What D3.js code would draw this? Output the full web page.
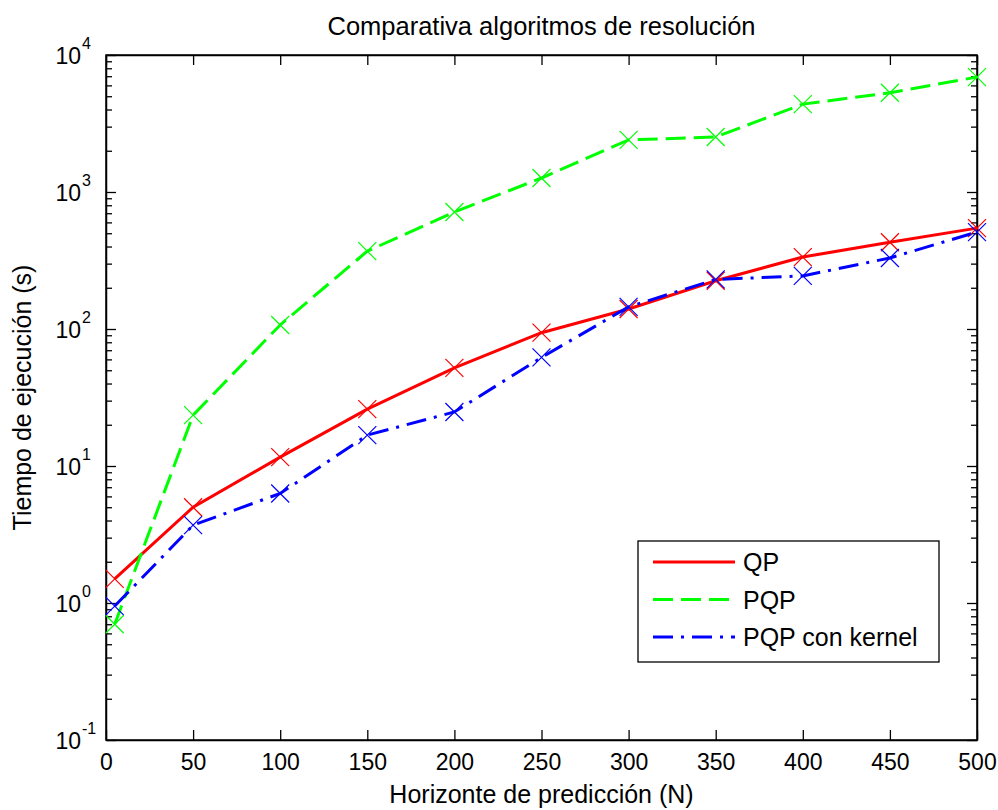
<!DOCTYPE html>
<html>
<head>
<meta charset="utf-8">
<script src="https://cdn.jsdelivr.net/npm/d3@7"></script>
<style>
  body { margin: 0; background: #fff; }
  svg text { font-family: "Liberation Sans", Arial, sans-serif; fill: #000; }
</style>
</head>
<body>
<div id="chart"></div>
<script>
// horizonte de prediccion N
const horizons = [5, 50, 100, 150, 200, 250, 300, 350, 400, 450, 500];
// tiempos (s)
const qpTimes = [1.5, 5.0, 11.6, 26, 52, 94, 140, 225, 335, 430, 545];
const pqpTimes = [0.70, 23.5, 107, 370, 715, 1265, 2400, 2520, 4380, 5300, 6900];
const kernelTimes = [0.95, 3.7, 6.3, 16.8, 24.8, 62, 145, 230, 244, 330, 510];

const xTicks = [0, 50, 100, 150, 200, 250, 300, 350, 400, 450, 500];
const yExponents = [-1, 0, 1, 2, 3, 4];
const seriesNames = ["QP", "PQP", "PQP con kernel"];

const w = 998;
const h = 810;
const plotLeft = 106, plotRight = 977, plotTop = 55, plotBottom = 740;

const svg = d3.select("#chart").append("svg").attr("width", w).attr("height", h);
svg.append("rect").attr("width", w).attr("height", h).attr("fill", "#fff");

const x = d3.scaleLinear().domain([0, 500]).range([plotLeft, plotRight]);
const y = d3.scaleLog().domain([0.1, 10000]).range([plotBottom, plotTop]);

// minor log ticks
const minor = [];
yExponents.slice(0, -1).forEach(e => {
    for (let k = 2; k <= 9; k++) minor.push(k * Math.pow(10, e));
});

const axisStyle = g => {
    g.selectAll("path").attr("stroke", "#000").attr("stroke-width", 1.5);
    g.selectAll("line").attr("stroke", "#000").attr("stroke-width", 1.3);
};

svg.append("g").attr("transform", `translate(0,${plotBottom})`)
    .call(d3.axisBottom(x).tickValues(xTicks).tickSizeInner(-10).tickSizeOuter(0).tickPadding(14))
    .call(axisStyle)
    .call(g => g.selectAll("text").style("font-size", "23px").attr("dy", "0.71em"));
svg.append("g").attr("transform", `translate(0,${plotTop})`)
    .call(d3.axisTop(x).tickValues(xTicks).tickSizeInner(-10).tickSizeOuter(0).tickFormat(""))
    .call(axisStyle);

svg.append("g").attr("transform", `translate(${plotLeft},0)`)
    .call(d3.axisLeft(y).tickValues(yExponents.map(e => Math.pow(10, e))).tickSizeInner(-10).tickSizeOuter(0).tickFormat(""))
    .call(axisStyle);
svg.append("g").attr("transform", `translate(${plotRight},0)`)
    .call(d3.axisRight(y).tickValues(yExponents.map(e => Math.pow(10, e))).tickSizeInner(-10).tickSizeOuter(0).tickFormat(""))
    .call(axisStyle);
svg.append("g").attr("transform", `translate(${plotLeft},0)`)
    .call(d3.axisLeft(y).tickValues(minor).tickSizeInner(-6).tickSizeOuter(0).tickFormat(""))
    .call(axisStyle).call(g => g.select("path").remove());
svg.append("g").attr("transform", `translate(${plotRight},0)`)
    .call(d3.axisRight(y).tickValues(minor).tickSizeInner(-6).tickSizeOuter(0).tickFormat(""))
    .call(axisStyle).call(g => g.select("path").remove());

// y tick labels 10^e
const yLab = svg.append("g").selectAll("g").data(yExponents).enter().append("g");
yLab.append("text")
    .attr("x", 81)
    .attr("y", d => y(Math.pow(10, d)) + 9)
    .attr("text-anchor", "end")
    .style("font-size", "23px")
    .text("10");
yLab.append("text")
    .attr("x", 82)
    .attr("y", d => y(Math.pow(10, d)) - 6)
    .attr("text-anchor", "start")
    .style("font-size", "16px")
    .text(d => d);

// box
svg.append("rect")
    .attr("x", plotLeft).attr("y", plotTop)
    .attr("width", plotRight - plotLeft).attr("height", plotBottom - plotTop)
    .attr("fill", "none").attr("stroke", "#000").attr("stroke-width", 1.5);

const series = [
    { name: seriesNames[0], values: qpTimes, color: "#ff0000", dash: null },
    { name: seriesNames[1], values: pqpTimes, color: "#00ff00", dash: "20,8" },
    { name: seriesNames[2], values: kernelTimes, color: "#0000ff", dash: "20,8,3,8" }
];

const line = d3.line()
    .x(d => x(d[0]))
    .y(d => y(d[1]));

const plot = svg.append("g");
series.forEach(s => {
    const pts = horizons.map((n, i) => [n, s.values[i]]);
    plot.append("path")
        .datum(pts)
        .attr("d", line)
        .attr("fill", "none")
        .attr("stroke", s.color)
        .attr("stroke-width", 3)
        .attr("stroke-dasharray", s.dash);
    plot.selectAll(null)
        .data(pts)
        .enter()
        .append("path")
        .attr("d", d => {
            const cx = x(d[0]), cy = y(d[1]), r = 9;
            return `M${cx - r},${cy - r}L${cx + r},${cy + r}M${cx - r},${cy + r}L${cx + r},${cy - r}`;
        })
        .attr("stroke", s.color)
        .attr("stroke-width", 1.2)
        .attr("fill", "none");
});

// title and axis labels
svg.append("text")
    .attr("x", (plotLeft + plotRight) / 2).attr("y", 35)
    .attr("text-anchor", "middle")
    .style("font-size", "25.5px")
    .text("Comparativa algoritmos de resolución");
svg.append("text")
    .attr("x", (plotLeft + plotRight) / 2).attr("y", 803)
    .attr("text-anchor", "middle")
    .style("font-size", "25px")
    .text("Horizonte de predicción (N)");
svg.append("text")
    .attr("transform", `translate(31,${(plotTop + plotBottom) / 2}) rotate(-90)`)
    .attr("text-anchor", "middle")
    .style("font-size", "25px")
    .text("Tiempo de ejecución (s)");

// legend
const legend = svg.append("g");
legend.append("rect")
    .attr("x", 638).attr("y", 541).attr("width", 301).attr("height", 121)
    .attr("fill", "#fff").attr("stroke", "#000").attr("stroke-width", 1.3);
const rows = legend.selectAll("g.row").data(series).enter().append("g")
    .attr("class", "row")
    .attr("transform", (d, i) => `translate(0,${562 + i * 37.5})`);
rows.append("line")
    .attr("x1", 653).attr("x2", 735)
    .attr("stroke", d => d.color)
    .attr("stroke-width", 3)
    .attr("stroke-dasharray", d => d.dash);
rows.append("text")
    .attr("x", 743).attr("y", 9)
    .style("font-size", "25px")
    .text(d => d.name);
</script>
</body>
</html>
